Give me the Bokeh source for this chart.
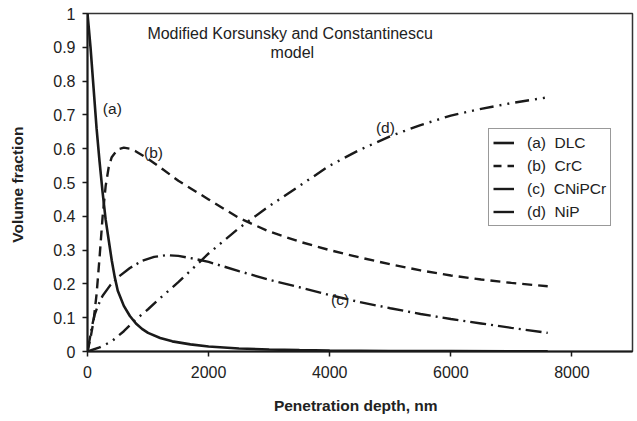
from bokeh.plotting import figure
from bokeh.models import Range1d, FixedTicker, Legend, LegendItem, ColumnDataSource
from bokeh.core.properties import value
from bokeh.embed import file_html
from bokeh.resources import INLINE

# ---- data ----
x_a = [0, 25, 50, 100, 150, 200, 250, 300, 350, 400, 450, 500, 600, 700, 800, 900, 1000,
       1200, 1400, 1700, 2000, 2500, 3000, 3500, 4000, 5000, 6000, 7000, 7600]
y_a = [1.0, 0.95, 0.9, 0.78, 0.66, 0.56, 0.47, 0.39, 0.33, 0.27, 0.22, 0.18, 0.135, 0.105,
       0.083, 0.067, 0.055, 0.04, 0.03, 0.021, 0.015, 0.009, 0.006, 0.004, 0.003, 0.0015,
       0.001, 0.0005, 0.0003]

x_b = [0, 50, 100, 150, 200, 250, 300, 350, 400, 500, 600, 700, 800, 1000, 1200, 1500,
       2000, 2500, 3000, 3500, 4000, 4500, 5000, 5500, 6000, 6500, 7000, 7600]
y_b = [0.0, 0.04, 0.09, 0.17, 0.28, 0.4, 0.49, 0.545, 0.575, 0.598, 0.603, 0.6, 0.592,
       0.57, 0.545, 0.505, 0.45, 0.395, 0.355, 0.325, 0.3, 0.278, 0.258, 0.24, 0.225,
       0.213, 0.203, 0.193]

x_c = [0, 40, 80, 120, 170, 250, 380, 520, 700, 900, 1100, 1300, 1500, 1800, 2000, 2500,
       3000, 3500, 4000, 4500, 5000, 5500, 6000, 6500, 7000, 7600]
y_c = [0.0, 0.04, 0.08, 0.11, 0.135, 0.165, 0.197, 0.222, 0.247, 0.268, 0.28, 0.285, 0.283,
       0.273, 0.265, 0.238, 0.212, 0.19, 0.167, 0.146, 0.128, 0.111, 0.096, 0.083, 0.07,
       0.055]

x_d = [0, 200, 400, 600, 800, 1000, 1200, 1500, 2000, 2500, 3000, 3500, 4000, 4500,
       5000, 5500, 6000, 6500, 7000, 7600]
y_d = [0.0, 0.012, 0.03, 0.06, 0.095, 0.125, 0.158, 0.205, 0.29, 0.365, 0.43, 0.49,
       0.55, 0.597, 0.637, 0.67, 0.698, 0.718, 0.735, 0.752]

series_names = ["(a)  DLC", "(b)  CrC", "(c)  CNiPCr", "(d)  NiP"]

curve_label_text = ["(a)", "(b)", "(c)", "(d)"]
curve_label_x = [410, 1090, 4170, 4920]
curve_label_y = [0.72, 0.59, 0.155, 0.663]

title_lines = ["Modified  Korsunsky and Constantinescu", "model"]
title_x = [3383, 3383]
title_y = [0.941, 0.884]

x_ticks = [0, 2000, 4000, 6000, 8000]
y_ticks = [0, 0.1, 0.2, 0.3, 0.4, 0.5, 0.6, 0.7, 0.8, 0.9, 1.0]
y_tick_labels = ["0", "0.1", "0.2", "0.3", "0.4", "0.5", "0.6", "0.7", "0.8", "0.9", "1"]

FONT = "Liberation Sans"
INK = "#1a1a1a"
TXT = "#222222"

p = figure(width=637, height=421, output_backend="svg", toolbar_location=None,
           x_range=Range1d(0, 9000), y_range=Range1d(0, 1),
           min_border_left=87, min_border_right=5, min_border_top=13, min_border_bottom=70)
p.background_fill_color = "white"
p.border_fill_color = "white"
p.grid.visible = False
p.outline_line_color = "#333333"
p.outline_line_width = 1.5

for ax in (p.xaxis[0], p.yaxis[0]):
    ax.axis_line_color = INK
    ax.axis_line_width = 2
    ax.major_tick_line_color = INK
    ax.major_tick_line_width = 1.5
    ax.major_tick_out = 5
    ax.major_tick_in = 0
    ax.minor_tick_line_color = None
    ax.major_label_text_font = FONT
    ax.major_label_text_font_size = "16px"
    ax.major_label_text_color = TXT
    ax.axis_label_text_font = FONT
    ax.axis_label_text_font_size = "15.5px"
    ax.axis_label_text_font_style = "bold"
    ax.axis_label_text_color = TXT

p.xaxis.ticker = FixedTicker(ticks=x_ticks)
p.xaxis.major_label_standoff = 9
p.xaxis.axis_label = "Penetration  depth,  nm"
p.xaxis.axis_label_standoff = 16

p.yaxis.ticker = FixedTicker(ticks=y_ticks)
p.yaxis.major_label_overrides = {t: l for t, l in zip(y_ticks, y_tick_labels)}
p.yaxis.major_label_standoff = 7
p.yaxis.axis_label = "Volume  fraction"
p.yaxis.axis_label_standoff = 24

# curves
p.line(x_a, y_a, line_color=INK, line_width=2.6)
p.line(x_b, y_b, line_color=INK, line_width=2.4, line_dash="10 6")
p.line(x_c, y_c, line_color=INK, line_width=2.4, line_dash="16 5 2 5")
p.line(x_d, y_d, line_color=INK, line_width=2.4, line_dash="14 6 2 6 2 6")

# legend-only samples (short samples as in the reference); no visible marks in the plot
nan = float("nan")
def legend_src():
    return ColumnDataSource(dict(x=[nan, nan], y=[nan, nan]))
la = p.line("x", "y", source=legend_src(), line_color=INK, line_width=2.6)
lb = p.line("x", "y", source=legend_src(), line_color=INK, line_width=2.4, line_dash="8 6")
lc = p.line("x", "y", source=legend_src(), line_color=INK, line_width=2.4)
ld = p.line("x", "y", source=legend_src(), line_color=INK, line_width=2.4)

legend = Legend(items=[LegendItem(label=n, renderers=[r], index=0)
                       for n, r in zip(series_names, [la, lb, lc, ld])],
                location=(401, 125), orientation="vertical")
legend.label_text_font = FONT
legend.label_text_font_size = "15.5px"
legend.label_text_color = TXT
legend.glyph_width = 21
legend.glyph_height = 19
legend.spacing = 4
legend.padding = 4
legend.margin = 0
legend.label_standoff = 13
legend.border_line_color = "#333333"
legend.border_line_width = 1
legend.background_fill_alpha = 1.0
p.add_layout(legend, "center")

# curve labels
p.text(curve_label_x, curve_label_y, text=curve_label_text, text_font=value(FONT),
       text_font_size="15.5px", text_color=TXT, text_align="center", text_baseline="middle")

# inside title
p.text(title_x, title_y, text=title_lines, text_font=value(FONT),
       text_font_size="16px", text_color=TXT, text_align="center", text_baseline="middle")

open("out.html", "w").write(file_html(p, INLINE))
